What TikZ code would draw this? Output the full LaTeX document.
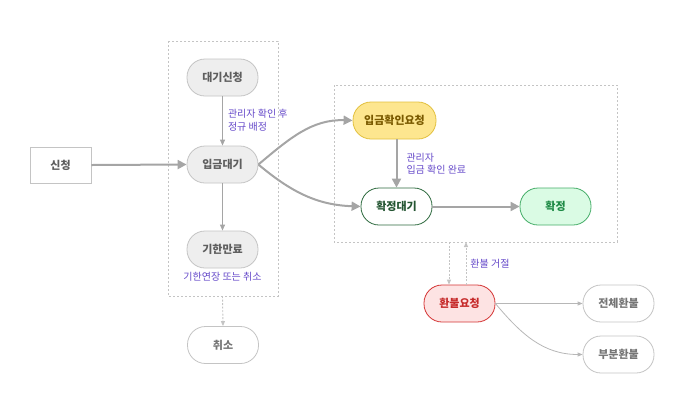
\documentclass[tikz,border=0pt]{standalone}
\usepackage{fontspec}
\setmainfont{Noto Sans CJK KR}
\usepackage{xcolor}
\usetikzlibrary{arrows.meta, positioning, calc}

\definecolor{graybd}{HTML}{C4C4C4}
\definecolor{grayfill}{HTML}{EEEEEE}
\definecolor{graytxt}{HTML}{5E5E5E}
\definecolor{yelfill}{HTML}{FDE68F}
\definecolor{yelbd}{HTML}{E2C03E}
\definecolor{yeltxt}{HTML}{7A5A00}
\definecolor{dkgreen}{HTML}{2D6A3E}
\definecolor{grfill}{HTML}{DAFBE4}
\definecolor{grbd}{HTML}{45AD68}
\definecolor{grtxt}{HTML}{1D8A45}
\definecolor{redfill}{HTML}{FDE3E3}
\definecolor{redbd}{HTML}{D43434}
\definecolor{redtxt}{HTML}{C62A2A}
\definecolor{lblcol}{HTML}{6549C9}
\definecolor{arrowcol}{HTML}{A5A5A5}

\begin{document}
\begin{tikzpicture}[
  x=1pt, y=1pt,
  pill/.style={
    rectangle, rounded corners=18pt,
    draw=graybd, fill=grayfill, line width=0.8pt,
    minimum width=71pt, minimum height=37pt,
    font=\fontsize{11}{13}\selectfont\bfseries, text=graytxt},
  waitbox/.style={pill},
  endbox/.style={pill, fill=white, text=graytxt!85},
  reqbox/.style={pill, draw=yelbd, fill=yelfill, text=yeltxt, minimum width=83pt},
  holdbox/.style={pill, draw=dkgreen, fill=white, text=dkgreen!80!black},
  donebox/.style={pill, draw=grbd, fill=grfill, text=grtxt},
  refbox/.style={pill, draw=redbd, fill=redfill, text=redtxt},
  startbox/.style={
    rectangle, draw=graybd, fill=white, line width=0.8pt,
    minimum width=61pt, minimum height=36pt,
    font=\fontsize{11}{13}\selectfont\bfseries, text=graytxt},
  groupbox/.style={draw=graybd, dashed, dash pattern=on 2pt off 2pt, line width=0.6pt},
  arrowmain/.style={-{Triangle[length=9pt, width=9pt]}, line width=2pt, draw=arrowcol},
  arrowthin/.style={-{Triangle[length=6pt, width=5pt]}, line width=1pt, draw=arrowcol},
  arrowsub/.style={-{Triangle[length=5pt, width=4pt]}, line width=0.8pt, draw=arrowcol!80},
  arrowdash/.style={-{Triangle[length=5pt, width=4pt]}, line width=0.9pt, draw=graybd,
    dash pattern=on 2pt off 1.5pt},
  lbl/.style={font=\fontsize{10}{12.5}\selectfont, text=lblcol, align=left, inner sep=0pt},
]
\useasboundingbox (0,0) rectangle (684,-400);

%% ---- Groups ----
\draw[groupbox] (168,-41) rectangle (278,-296);
\draw[groupbox] (334,-85) rectangle (617,-242);
\coordinate (grpAbot) at (222.5,-296);
\coordinate (grpBin) at (449,-242);
\coordinate (grpBout) at (466,-242);

%% ---- Nodes ----
\node[startbox] (apply) at (60.5,-165) {신청};

\node[waitbox] (queue) at (222.5,-77.5) {대기신청};
\node[waitbox] (unpaid) at (222.5,-164.5) {입금대기};
\node[waitbox] (expired) at (222.5,-249.5) {기한만료};
\node[endbox] (cancel) at (223,-345) {취소};

\node[reqbox] (payreq) at (394.5,-120.5) {입금확인요청};
\node[holdbox] (pending) at (396.5,-206.5) {확정대기};
\node[donebox] (fixed) at (555.5,-206.5) {확정};

\node[refbox] (refund) at (459.5,-303.5) {환불요청};
\node[endbox] (full) at (618.5,-303.5) {전체환불};
\node[endbox] (part) at (618.5,-354.5) {부분환불};

%% ---- Arrows ----
\draw[arrowmain] (apply.east) -- (unpaid.west);
\draw[arrowthin] (queue.south) --
  node[lbl, right=5pt, yshift=1pt]{관리자 확인 후\\정규 배정} (unpaid.north);
\draw[arrowthin] (unpaid.south) -- (expired.north);
\node[lbl, below=4pt of expired] (extend) {기한연장 또는 취소};
\draw[arrowdash] (grpAbot) -- (cancel.north);

\draw[arrowmain] (unpaid.east) to[out=40, in=178] (payreq.west);
\draw[arrowmain] (unpaid.east) to[out=-40, in=178] (pending.west);
\draw[arrowmain] (payreq.south -| pending.north) --
  node[lbl, right=9pt]{관리자\\입금 확인 완료} (pending.north);
\draw[arrowmain] (pending.east) -- (fixed.west);

%% ---- Refund ----
\draw[arrowdash] (grpBin) -- (refund.north -| grpBin);
\draw[arrowdash] (refund.north -| grpBout) --
  node[lbl, right=4pt]{환불 거절} (grpBout);
\draw[arrowsub] (refund.east) -- (full.west);
\draw[arrowsub] (refund.east) to[out=-50, in=180] (part.west);

\end{tikzpicture}
\end{document}
